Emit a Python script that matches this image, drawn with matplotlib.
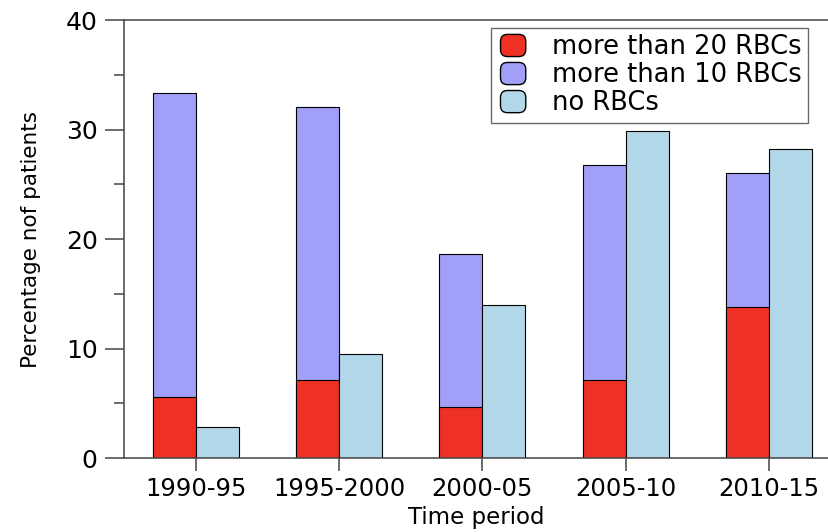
import numpy as np
import matplotlib
matplotlib.use("Agg")
import matplotlib.pyplot as plt
from matplotlib.patches import Patch, FancyBboxPatch
from matplotlib.legend_handler import HandlerPatch
from matplotlib.ticker import MultipleLocator

# data
periods = ["1990-95", "1995-2000", "2000-05", "2005-10", "2010-15"]
more_than_20 = [5.6, 7.1, 4.7, 7.1, 13.8]
more_than_10 = [33.3, 32.1, 18.6, 26.8, 26.0]
no_rbcs = [2.8, 9.5, 14.0, 29.9, 28.2]

c_red = "#ee3124"
c_purple = "#a19ff8"
c_blue = "#b2d7e8"

plt.rcParams["font.family"] = ["DejaVu Sans"]

fig = plt.figure(figsize=(8.29, 5.32), dpi=100)
ax = fig.add_axes([0.1496, 0.139, 0.8504, 0.8234])

x = np.arange(len(periods))
w = 0.30
ax.bar(x - w / 2, more_than_10, w, color=c_purple, edgecolor="black", linewidth=0.8)
ax.bar(x - w / 2, more_than_20, w, color=c_red, edgecolor="black", linewidth=0.8)
ax.bar(x + w / 2, no_rbcs, w, color=c_blue, edgecolor="black", linewidth=0.8)

ax.set_xlim(-0.5, 4.42)
ax.set_ylim(0, 40)
ax.set_xticks(x)
ax.set_xticklabels(periods, fontsize=17.5)
ax.yaxis.set_major_locator(MultipleLocator(10))
ax.yaxis.set_minor_locator(MultipleLocator(5))
ax.tick_params(axis="y", which="major", length=14, width=1.1, pad=5, labelsize=18, color="#444444")
ax.tick_params(axis="y", which="minor", length=7, width=1.1, color="#444444")
ax.tick_params(axis="x", length=9, width=1.1, pad=5, color="#444444")

ax.spines["right"].set_visible(False)
for s in ["left", "top", "bottom"]:
    ax.spines[s].set_color("#444444")
    ax.spines[s].set_linewidth(1.1)

ax.set_ylabel("Percentage nof patients", fontsize=15.5, labelpad=18)
ax.set_xlabel("Time period", fontsize=16.5, labelpad=3)


def round_patch(legend, orig_handle, xdescent, ydescent, width, height, fontsize):
    return FancyBboxPatch((-xdescent + 2, -ydescent), width - 4, height,
                          boxstyle="round,pad=0,rounding_size=5")


handles = [Patch(facecolor=c_red, edgecolor="black", label="more than 20 RBCs"),
           Patch(facecolor=c_purple, edgecolor="black", label="more than 10 RBCs"),
           Patch(facecolor=c_blue, edgecolor="black", label="no RBCs")]
leg = ax.legend(handles=handles, loc="upper right", bbox_to_anchor=(0.970, 0.982),
                fontsize=18.5, frameon=True, fancybox=False, handlelength=1.2,
                handleheight=0.95, labelspacing=0.08, handletextpad=0.9,
                borderpad=0.25, borderaxespad=0.0,
                handler_map={Patch: HandlerPatch(patch_func=round_patch)})
leg.get_frame().set_edgecolor("#444444")
leg.get_frame().set_linewidth(1.0)

fig.savefig("out.png", dpi=100)
